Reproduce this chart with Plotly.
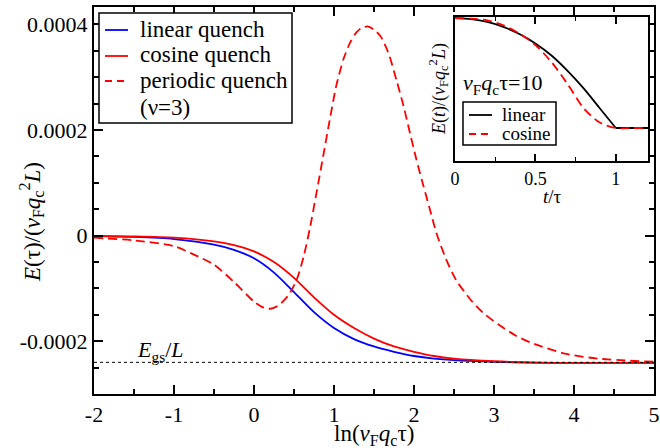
import plotly.graph_objects as go

# ---------------- data ----------------
x_main = [-2, -1.5, -1, -0.5, -0.25, 0, 0.25, 0.5, 0.75, 1, 1.25, 1.5, 1.75,
          2, 2.25, 2.5, 3, 3.5, 4, 5]
linear_q = [-1e-6, -2.5e-6, -6.5e-6, -1.7e-5, -2.7e-5, -4.3e-5, -7e-5, -1.07e-4,
            -1.45e-4, -1.75e-4, -1.96e-4, -2.1e-4, -2.2e-4, -2.28e-4, -2.33e-4,
            -2.36e-4, -2.39e-4, -2.405e-4, -2.41e-4, -2.41e-4]
cosine_q = [-0.5e-6, -1.5e-6, -4e-6, -1.1e-5, -1.8e-5, -3e-5, -5e-5, -8e-5,
            -1.17e-4, -1.5e-4, -1.75e-4, -1.95e-4, -2.1e-4, -2.2e-4, -2.28e-4,
            -2.33e-4, -2.38e-4, -2.405e-4, -2.41e-4, -2.41e-4]

x_periodic = [-2, -1.5, -1, -0.75, -0.5, -0.25, 0, 0.1, 0.18, 0.3, 0.43, 0.53,
              0.62, 0.7, 0.78, 0.87, 0.95, 1.03, 1.12, 1.2, 1.28, 1.35, 1.43,
              1.5, 1.58, 1.68, 1.78, 1.87, 1.95, 2.03, 2.12, 2.2, 2.28, 2.41,
              2.53, 2.7, 2.87, 3.07, 3.28, 3.5, 3.9, 4.3, 4.7, 5]
periodic_q = [-4e-6, -9e-6, -2e-5, -3.6e-5, -5.5e-5, -8.8e-5, -1.25e-4, -1.35e-4,
              -1.39e-4, -1.33e-4, -1.13e-4, -8.5e-5, -4e-5, 1.5e-5, 8e-5,
              1.55e-4, 2.22e-4, 2.85e-4, 3.35e-4, 3.65e-4, 3.85e-4, 3.94e-4,
              3.96e-4, 3.9e-4, 3.78e-4, 3.46e-4, 2.95e-4, 2.45e-4, 1.94e-4,
              1.44e-4, 9.3e-5, 4.9e-5, 5e-6, -4.8e-5, -8.5e-5, -1.2e-4, -1.47e-4,
              -1.7e-4, -1.9e-4, -2.05e-4, -2.24e-4, -2.33e-4, -2.37e-4, -2.39e-4]

E_gs = -0.00024
x_limits = [-2, 5]

x_ticks = [-2, -1, 0, 1, 2, 3, 4, 5]
x_ticklabels = ["-2", "-1", "0", "1", "2", "3", "4", "5"]
y_ticks = [-0.0002, 0, 0.0002, 0.0004]
y_ticklabels = ["-0.0002", "0", "0.0002", "0.0004"]

main_legend_labels = ["linear quench", "cosine quench", "periodic quench", "(ν=3)"]

# inset (arbitrary units, E(0)=0, final = -1)
t_inset = [0, 0.1, 0.2, 0.3, 0.4, 0.5, 0.6, 0.7, 0.8, 0.9, 1.0]
lin_inset = [0, -0.01, -0.035, -0.08, -0.145, -0.23, -0.34, -0.48, -0.64, -0.82, -1.0]
t_flat = [1.0, 1.2]
lin_flat = [-1.0, -1.0]
t_cos = [0, 0.1, 0.2, 0.3, 0.4, 0.5, 0.6, 0.7, 0.8, 0.9, 1.0, 1.1, 1.2]
cos_inset = [0, -0.004, -0.02, -0.065, -0.14, -0.245, -0.40, -0.60, -0.82,
             -0.95, -1.0, -1.0, -1.0]
inset_xticks = [0, 0.5, 1]
inset_xticklabels = ["0", "0.5", "1"]
inset_legend_labels = ["linear", "cosine"]

# ---------------- figure ----------------
SERIF = "Liberation Serif, Times New Roman, Times, serif"
W, H = 660, 448
BLUE, RED = "#0000ff", "#ff0000"
DASH = "9px,5px"


def px(xp):
    return xp / W


def py(yp):
    return 1 - yp / H


def sfont(size):
    return dict(family=SERIF, size=size, color="black")


fig = go.Figure()

fig.add_trace(go.Scatter(x=x_main, y=linear_q, mode="lines", name=main_legend_labels[0],
                         line=dict(color=BLUE, width=1.8, shape="spline", smoothing=0.8),
                         xaxis="x", yaxis="y"))
fig.add_trace(go.Scatter(x=x_main, y=cosine_q, mode="lines", name=main_legend_labels[1],
                         line=dict(color=RED, width=1.8, shape="spline", smoothing=0.8),
                         xaxis="x", yaxis="y"))
fig.add_trace(go.Scatter(x=x_periodic, y=periodic_q, mode="lines",
                         name=main_legend_labels[2],
                         line=dict(color=RED, width=1.8, dash=DASH,
                                   shape="spline", smoothing=0.7),
                         xaxis="x", yaxis="y"))
fig.add_trace(go.Scatter(x=x_limits, y=[E_gs, E_gs], mode="lines",
                         line=dict(color="black", width=1, dash="dot"),
                         xaxis="x", yaxis="y"))

# inset traces
fig.add_trace(go.Scatter(x=t_inset, y=lin_inset, mode="lines", name=inset_legend_labels[0],
                         line=dict(color="black", width=1.8, shape="spline", smoothing=0.8),
                         xaxis="x2", yaxis="y2"))
fig.add_trace(go.Scatter(x=t_flat, y=lin_flat, mode="lines",
                         line=dict(color="black", width=1.8),
                         xaxis="x2", yaxis="y2"))
fig.add_trace(go.Scatter(x=t_cos, y=cos_inset, mode="lines", name=inset_legend_labels[1],
                         line=dict(color=RED, width=1.8, dash=DASH,
                                   shape="spline", smoothing=0.8),
                         xaxis="x2", yaxis="y2"))

axis_common = dict(showline=True, linecolor="black", linewidth=2, mirror="allticks",
                   ticks="inside", tickcolor="black", tickwidth=1.5, showgrid=False,
                   zeroline=False, automargin=False)

# ----- legends drawn as boxes + samples + text (tight line spacing like the original)
shapes = [
    dict(type="rect", xref="paper", yref="paper", x0=px(99), x1=px(292), y0=py(123), y1=py(13),
         line=dict(color="black", width=1.5), fillcolor="white", layer="above"),
    dict(type="line", xref="paper", yref="paper", x0=px(105), x1=px(128), y0=py(30), y1=py(30),
         line=dict(color=BLUE, width=1.8), layer="above"),
    dict(type="line", xref="paper", yref="paper", x0=px(105), x1=px(128), y0=py(56), y1=py(56),
         line=dict(color=RED, width=1.8), layer="above"),
    dict(type="line", xref="paper", yref="paper", x0=px(105), x1=px(128), y0=py(81), y1=py(81),
         line=dict(color=RED, width=1.8, dash="7px,5px"), layer="above"),
    dict(type="rect", xref="paper", yref="paper", x0=px(463), x1=px(556), y0=py(145), y1=py(102),
         line=dict(color="black", width=1.5), fillcolor="white", layer="above"),
    dict(type="line", xref="paper", yref="paper", x0=px(469), x1=px(492), y0=py(115), y1=py(115),
         line=dict(color="black", width=1.8), layer="above"),
    dict(type="line", xref="paper", yref="paper", x0=px(469), x1=px(492), y0=py(134), y1=py(134),
         line=dict(color=RED, width=1.8, dash="7px,5px"), layer="above"),
]

annotations = []
for label, yc in zip(main_legend_labels, [29, 55, 80, 107]):
    annotations.append(dict(x=px(138), y=py(yc), xref="paper", yref="paper", xanchor="left",
                            yanchor="middle", text=label, showarrow=False,
                            font=sfont(23)))
for label, yc in zip(inset_legend_labels, [114, 134]):
    annotations.append(dict(x=px(500), y=py(yc), xref="paper", yref="paper", xanchor="left",
                            yanchor="middle", text=label, showarrow=False,
                            font=sfont(19)))

annotations += [
    # axis titles
    dict(x=px(374), y=py(435), xref="paper", yref="paper", xanchor="center", yanchor="middle",
         text="ln(<i>v</i><sub>F</sub><i>q</i><sub>c</sub>τ)", showarrow=False,
         font=sfont(23)),
    dict(x=px(31), y=py(222), xref="paper", yref="paper", xanchor="center", yanchor="middle",
         textangle=-90,
         text="<i>E</i>(τ)/(<i>v</i><sub>F</sub><i>q</i><sub>c</sub><sup>2</sup><i>L</i>)",
         showarrow=False, font=sfont(23)),
    dict(x=px(552), y=py(197), xref="paper", yref="paper", xanchor="center", yanchor="middle",
         text="<i>t</i>/τ", showarrow=False, font=sfont(19)),
    dict(x=px(438), y=py(89), xref="paper", yref="paper", xanchor="center", yanchor="middle",
         textangle=-90,
         text="<i>E</i>(<i>t</i>)/(<i>v</i><sub>F</sub><i>q</i><sub>c</sub><sup>2</sup><i>L</i>)",
         showarrow=False, font=sfont(18)),
    # E_gs label
    dict(x=-1.17, y=E_gs, xref="x", yref="y", yanchor="bottom", yshift=-5,
         text="<i>E</i><sub>gs</sub>/<i>L</i>", showarrow=False, font=sfont(22)),
    # inset parameter
    dict(x=px(461), y=py(84), xref="paper", yref="paper", xanchor="left", yanchor="middle",
         text="<i>v</i><sub>F</sub><i>q</i><sub>c</sub>τ=10", showarrow=False,
         font=sfont(22)),
]

fig.update_layout(
    width=W, height=H,
    margin=dict(l=0, r=0, t=0, b=0, autoexpand=False),
    paper_bgcolor="white", plot_bgcolor="white",
    font=sfont(22),
    showlegend=False,
    xaxis=dict(domain=[px(94), px(654)], range=x_limits, tickvals=x_ticks,
               ticktext=x_ticklabels, ticklen=9,
               minor=dict(dtick=0.5, ticklen=5, ticks="inside", tickcolor="black",
                          tickwidth=1.5),
               tickfont=sfont(22), anchor="y", **axis_common),
    yaxis=dict(domain=[py(394), py(7)], range=[-0.0003, 0.000433], tickvals=y_ticks,
               ticktext=y_ticklabels, ticklen=9,
               minor=dict(dtick=0.00005, ticklen=5, ticks="inside", tickcolor="black",
                          tickwidth=1.5),
               tickfont=sfont(22), anchor="x", **axis_common),
    xaxis2=dict(domain=[px(455), px(648)], range=[0, 1.2], tickvals=inset_xticks,
                ticktext=inset_xticklabels, ticklen=7,
                minor=dict(dtick=0.25, ticklen=4, ticks="inside", tickcolor="black",
                           tickwidth=1.2),
                tickfont=sfont(18), anchor="y2", **axis_common),
    yaxis2=dict(domain=[py(161), py(17)], range=[-1.3, 0.01], showticklabels=False,
                showline=True, linecolor="black", linewidth=2, mirror=True, ticks="",
                showgrid=False, zeroline=False, automargin=False, anchor="x2"),
    shapes=shapes,
    annotations=annotations,
)

fig.write_html("out.html", post_script="document.body.style.margin='0';",
               config={"displayModeBar": False})
